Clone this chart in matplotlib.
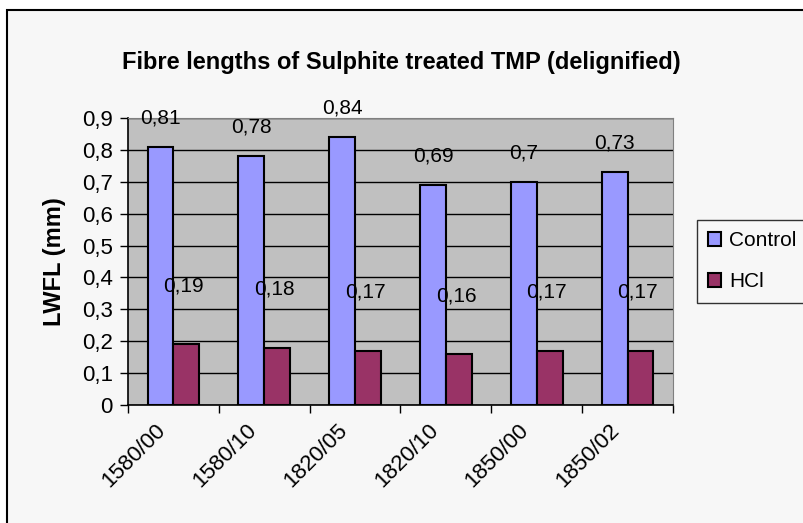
import numpy as np
import matplotlib
matplotlib.use("Agg")
import matplotlib.pyplot as plt
from matplotlib.patches import Rectangle
from matplotlib.transforms import ScaledTranslation

plt.rcParams["font.family"] = ["Liberation Sans", "DejaVu Sans"]

# data
categories = ["1580/00", "1580/10", "1820/05", "1820/10", "1850/00", "1850/02"]
control = [0.81, 0.78, 0.84, 0.69, 0.70, 0.73]
hcl = [0.19, 0.18, 0.17, 0.16, 0.17, 0.17]
y_ticks = [0, 0.1, 0.2, 0.3, 0.4, 0.5, 0.6, 0.7, 0.8, 0.9]

def fmt(v):
    """Comma decimal, like the original."""
    return f"{v:g}".replace(".", ",")

fig = plt.figure(figsize=(8.04, 5.23), dpi=100, facecolor="white")
# chart area box
fig.patches.append(Rectangle((7 / 804, -0.05), 1.1, 1 - 10 / 523 + 0.05,
                             transform=fig.transFigure, facecolor="#F7F7F7",
                             edgecolor="black", lw=1.5, zorder=-10))

ax = fig.add_axes([128 / 804, 1 - 405 / 523, (673 - 128) / 804, (405 - 118) / 523])
ax.set_facecolor("#C0C0C0")

x = np.arange(len(categories))
w = 0.285
ax.bar(x - w / 2, control, w, color="#9999FF", edgecolor="black", lw=1.5,
       label="Control", zorder=3)
ax.bar(x + w / 2, hcl, w, color="#993366", edgecolor="black", lw=1.5,
       label="HCl", zorder=3)

fs = 15
for xi, v in zip(x, control):
    ax.annotate(fmt(v), (xi - w / 2, v), xytext=(0, 21), textcoords="offset points",
                ha="center", va="center", fontsize=fs, zorder=4)
for xi, v in zip(x, hcl):
    ax.annotate(fmt(v), (xi + w / 2, v), xytext=(-2, 42), textcoords="offset points",
                ha="center", va="center", fontsize=fs, zorder=4)

ax.set_xlim(-0.5, len(categories) - 0.5)
ax.set_ylim(0, 0.9)
ax.set_yticks(y_ticks)
ax.set_yticklabels([fmt(t) for t in y_ticks], fontsize=16)
ax.yaxis.grid(True, color="black", lw=1, zorder=1)

# ticks at category boundaries, rotated names under each category
ax.set_xticks(np.arange(len(categories) + 1) - 0.5)
ax.set_xticklabels([])
shift = ScaledTranslation(-11 / 100, -22 / 100, fig.dpi_scale_trans)
for xi, cat in zip(x, categories):
    ax.text(xi, 0, cat, transform=ax.get_xaxis_transform() + shift,
            rotation=45, ha="right", va="center", rotation_mode="anchor",
            fontsize=16)
ax.tick_params(axis="both", which="major", direction="out", length=6,
               width=1, color="black")
ax.tick_params(axis="y", pad=5)

for s in ["top", "right"]:
    ax.spines[s].set_color("#808080")
for s in ["left", "bottom"]:
    ax.spines[s].set_color("black")
    ax.spines[s].set_linewidth(1.2)

ax.set_ylabel("LWFL (mm)", fontsize=17, fontweight="bold")
ax.yaxis.set_label_coords((66 - 128) / 545, (405 - 262) / 287)
fig.text(401 / 804, 1 - 63 / 523, "Fibre lengths of Sulphite treated TMP (delignified)",
         ha="center", va="center", fontsize=17, fontweight="bold")

leg = ax.legend(loc="upper left", bbox_to_anchor=(697 / 804, 1 - 220 / 523),
                bbox_transform=fig.transFigure, borderaxespad=0, fontsize=fs,
                frameon=True, fancybox=False, edgecolor="black",
                facecolor="#F7F7F7", handlelength=0.6, handleheight=0.6,
                handletextpad=0.4, labelspacing=1.05, borderpad=0.55)
leg.get_frame().set_linewidth(1)

fig.savefig("out.png", dpi=100, facecolor=fig.get_facecolor())
